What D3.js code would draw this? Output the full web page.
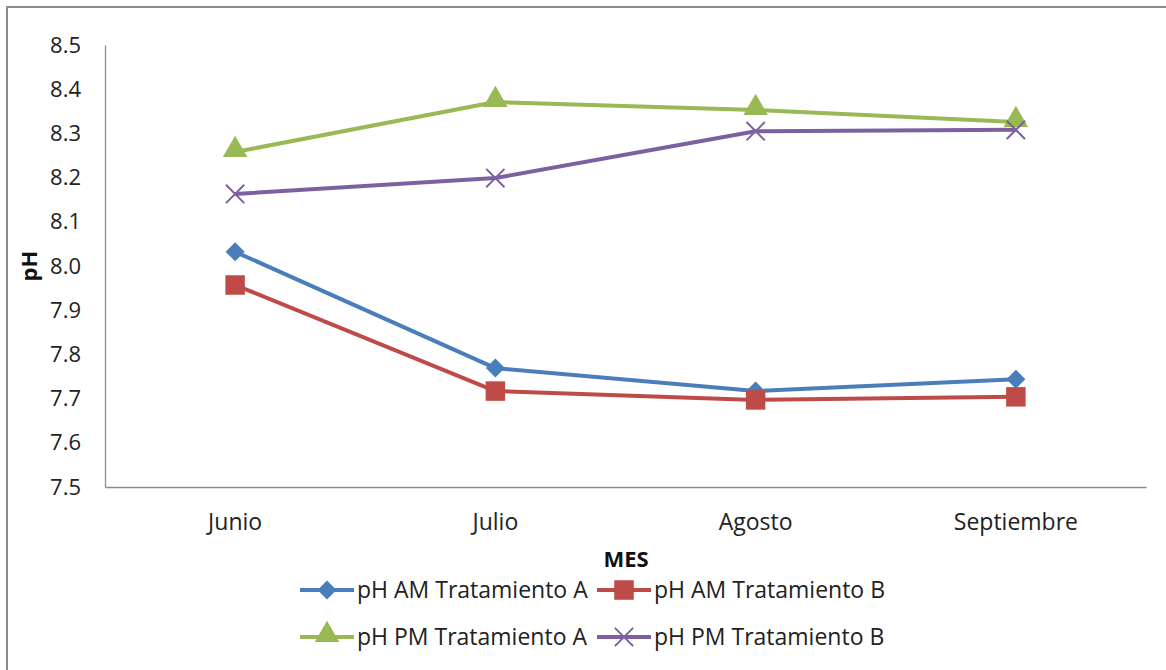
<!DOCTYPE html>
<html>
<head>
<meta charset="utf-8">
<script src="https://cdn.jsdelivr.net/npm/d3@7"></script>
<style>
  body { margin: 0; background: #fff; }
  svg { display: block; font-family: "Open Sans", Lato, sans-serif; }
</style>
</head>
<body>
<div id="chart"></div>
<script>
const width = 1166;
const height = 670;
const font = "'Open Sans', Lato, sans-serif";

// data
const months = ["Junio", "Julio", "Agosto", "Septiembre"];
const yTicks = [7.5, 7.6, 7.7, 7.8, 7.9, 8.0, 8.1, 8.2, 8.3, 8.4, 8.5];
const seriesNames = ["pH AM Tratamiento A", "pH AM Tratamiento B", "pH PM Tratamiento A", "pH PM Tratamiento B"];
const amA = [8.032, 7.769, 7.717, 7.744];
const amB = [7.957, 7.717, 7.697, 7.704];
const pmA = [8.258, 8.371, 8.353, 8.326];
const pmB = [8.163, 8.199, 8.305, 8.308];
const colors = ["#4a7ebb", "#be4b48", "#98b954", "#7d60a0"];
const markers = ["diamond", "square", "triangle", "cross"];

const series = [amA, amB, pmA, pmB].map((vals, i) => ({
  name: seriesNames[i], color: colors[i], marker: markers[i],
  points: vals.map((v, j) => ({ month: months[j], value: v }))
}));

const svg = d3.select("#chart").append("svg")
  .attr("width", width)
  .attr("height", height);

// outer chart border (runs off right & bottom edges)
svg.append("rect")
  .attr("x", 7).attr("y", 7)
  .attr("width", width + 20).attr("height", height + 20)
  .attr("fill", "#fff")
  .attr("stroke", "#8c8c8c")
  .attr("stroke-width", 2);

const x = d3.scaleBand()
  .domain(months)
  .range([105, 1146]);

const y = d3.scaleLinear()
  .domain([7.5, 8.5])
  .range([487, 45]);

// axes
const yAxis = svg.append("g")
  .attr("transform", "translate(105,0)")
  .call(d3.axisLeft(y).tickValues(yTicks).tickFormat(d3.format(".1f")).tickSize(0).tickPadding(24));
yAxis.attr("font-family", font);
yAxis.select(".domain").attr("stroke", "#8c8c8c").attr("stroke-width", 1.3);
yAxis.selectAll("text").attr("font-size", 22).attr("fill", "#222");

const xAxis = svg.append("g")
  .attr("transform", "translate(0,487)")
  .call(d3.axisBottom(x).tickSize(0).tickPadding(27));
xAxis.attr("font-family", font);
xAxis.select(".domain").attr("stroke", "#8c8c8c").attr("stroke-width", 1.3);
xAxis.selectAll("text").attr("font-size", 23).attr("fill", "#222");

// axis titles
svg.append("text")
  .attr("x", 626).attr("y", 567)
  .attr("text-anchor", "middle")
  .attr("font-size", 22).attr("font-weight", "bold")
  .attr("fill", "#111")
  .text("MES");

svg.append("text")
  .attr("transform", "translate(37,266) rotate(-90)")
  .attr("text-anchor", "middle")
  .attr("font-size", 22).attr("font-weight", "bold")
  .attr("fill", "#111")
  .text("pH");

const symbolFor = {
  diamond: d3.symbol().type(d3.symbolDiamond2).size(230),
  square: d3.symbol().type(d3.symbolSquare).size(380),
  triangle: d3.symbol().type(d3.symbolTriangle).size(260),
  cross: d3.symbol().type(d3.symbolX).size(220)
};

function drawMarker(g, s) {
  const p = g.append("path").attr("d", symbolFor[s.marker]());
  if (s.marker === "cross") {
    p.attr("fill", "none").attr("stroke", s.color).attr("stroke-width", 2);
  } else {
    p.attr("fill", s.color);
  }
  if (s.marker === "triangle") p.attr("transform", "translate(0,-2)");
}

const line = d3.line()
  .x(d => x(d.month) + x.bandwidth() / 2)
  .y(d => y(d.value));

const plot = svg.append("g");
series.forEach(s => {
  plot.append("path")
    .datum(s.points)
    .attr("d", line)
    .attr("fill", "none")
    .attr("stroke", s.color)
    .attr("stroke-width", 4)
    .attr("stroke-linejoin", "round");
  s.points.forEach(d => {
    const g = plot.append("g")
      .attr("transform", `translate(${x(d.month) + x.bandwidth() / 2},${y(d.value)})`);
    drawMarker(g, s);
  });
});

// legend: two columns, two rows
const legendPos = [[300, 590], [597, 590], [300, 637], [597, 637]];
series.forEach((s, i) => {
  const [lx, ly] = legendPos[i];
  const g = svg.append("g").attr("transform", `translate(${lx},${ly})`);
  g.append("line")
    .attr("x1", 0).attr("x2", 54)
    .attr("stroke", s.color).attr("stroke-width", 4);
  const m = g.append("g").attr("transform", "translate(27,0)");
  drawMarker(m, s);
  g.append("text")
    .attr("x", 57).attr("y", 8)
    .attr("font-size", 23).attr("fill", "#222")
    .text(s.name);
});
</script>
</body>
</html>
